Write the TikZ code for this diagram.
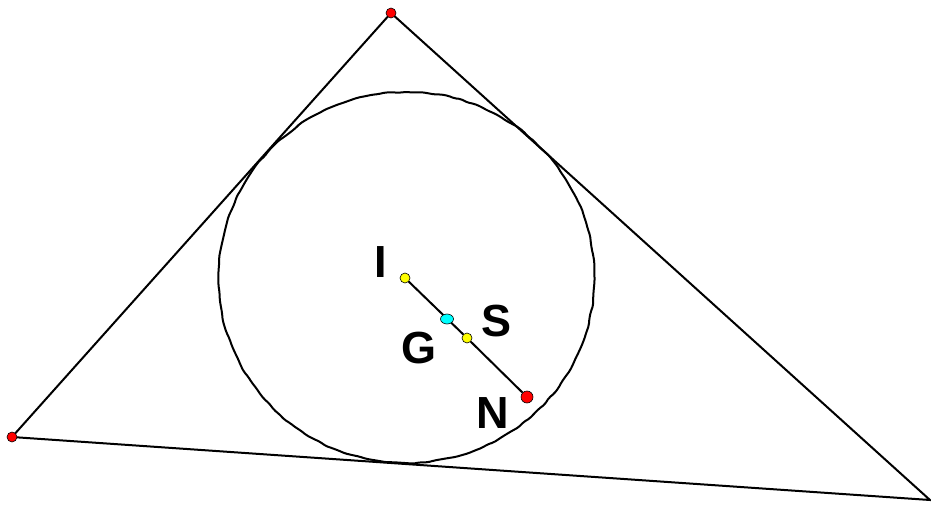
\documentclass[tikz,border=0pt]{standalone}
\usepackage{fontspec}
\setmainfont{Liberation Sans}
\usetikzlibrary{decorations.pathmorphing}
\definecolor{dotred}{RGB}{255,0,0}
\definecolor{dotyellow}{RGB}{255,255,0}
\definecolor{dotcyan}{RGB}{0,255,255}
\begin{document}
\begin{tikzpicture}[x=1pt,y=-1pt,
  edge/.style={draw=black,line width=2pt},
  vdot/.style={circle,draw=black,line width=0.6pt,fill=dotred,inner sep=0pt,minimum size=10pt},
  ydot/.style={circle,draw=black,line width=0.6pt,fill=dotyellow,inner sep=0pt,minimum size=10pt},
  lab/.style={font=\fontsize{45}{45}\selectfont\bfseries,inner sep=0pt}]
\useasboundingbox (0,0) rectangle (931,508);
\coordinate (C) at (930,500);
\pgfmathsetseed{7}
\draw[edge,decoration={random steps,segment length=7pt,amplitude=0.7pt},decorate,rounded corners=2pt] (406.5,277.5) ellipse [x radius=188pt, y radius=185.5pt];
\draw[edge] (391,13) -- (12,437) -- (C) -- cycle;
\node[vdot] (A) at (391,13) {};
\node[vdot] (B) at (12,437) {};
\node[ydot] (I) at (405,278) {};
\node[ydot] (S) at (467,338) {};
\node[vdot,minimum size=12pt] (N) at (527,397) {};
\draw[edge] (I) -- (S) -- (N);
\node[circle,draw=black,line width=0.6pt,fill=dotcyan,inner sep=0pt,minimum size=10pt,xscale=1.3] (G) at (447,319) {};
\node[lab] (lI) at (381,262) {I};
\node[lab] (lG) at (419,348) {G};
\node[lab] (lS) at (497,321) {S};
\node[lab] (lN) at (493,413) {N};
\end{tikzpicture}
\end{document}
